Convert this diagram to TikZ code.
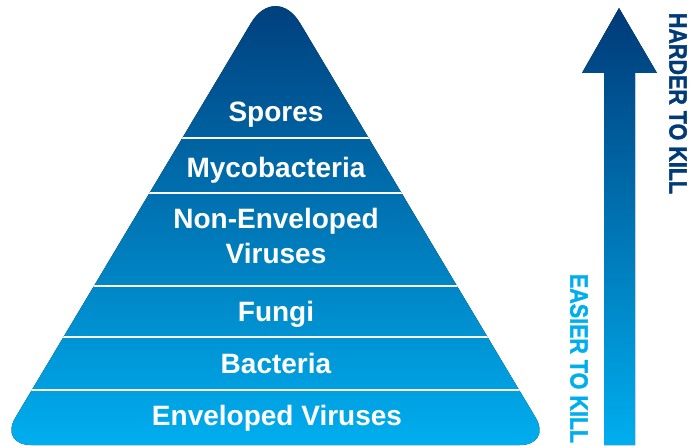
\documentclass[tikz,border=0pt]{standalone}
\usepackage{fontspec}
\setmainfont{Liberation Sans}
\newfontfamily\sidefont[FakeBold=1.6]{Liberation Sans Bold}
\usepackage{xcolor}
\definecolor{kdnavy}{RGB}{0,58,120}
\definecolor{kdcyan}{RGB}{0,174,239}
\tikzstyle{layer} = [text=white, font=\fontsize{28}{35}\selectfont\bfseries, anchor=base, align=center]
\tikzstyle{sep} = [white, line width=1.6pt]
\tikzstyle{side} = [rotate=-90, font=\fontsize{25}{28}\selectfont\sidefont]
\tikzstyle{grad} = [top color=kdnavy, bottom color=kdcyan]
\newcommand{\narrow}[1]{\scalebox{0.86}[1]{#1}}

\begin{document}
\begin{tikzpicture}[x=1pt,y=1pt]
\useasboundingbox (0,0) rectangle (692,445);
% Kill pyramid
\coordinate (apex) at (275.5,463);
\coordinate (bl) at (-1,0);
\coordinate (br) at (552,0);
\coordinate (bm) at (275.5,0);
\fill[grad] (bm) [rounded corners=32pt] -- (br) [rounded corners=48pt] -- (apex) [rounded corners=32pt] -- (bl) -- cycle;
\begin{scope}
\clip (bm) [rounded corners=32pt] -- (br) [rounded corners=48pt] -- (apex) [rounded corners=32pt] -- (bl) -- cycle;
\foreach \y in {307,252,159,108,55}
  \draw[sep] (0,\y) -- (560,\y);
\end{scope}
\node[layer] (spores) at (276,323) {Spores};
\node[layer] (myco) at (276,268) {Mycobacteria};
\node[layer] (nonenv) at (276,182) {Non-Enveloped\\Viruses};
\node[layer] (fungi) at (276,124) {Fungi};
\node[layer] (bact) at (276,72) {Bacteria};
\node[layer] (env) at (277,20) {Enveloped Viruses};
% Kill arrow
\fill[grad] (604,0) -- (604,372) -- (582,372) -- (619,437) -- (657,372) -- (635,372) -- (635,0) -- cycle;
\node[side, text=kdnavy] (harder) at (678,341.5) {\narrow{HARDER TO KILL}};
\node[side, text=kdcyan] (easier) at (579,86.5) {\narrow{EASIER TO KILL}};
\end{tikzpicture}
\end{document}
